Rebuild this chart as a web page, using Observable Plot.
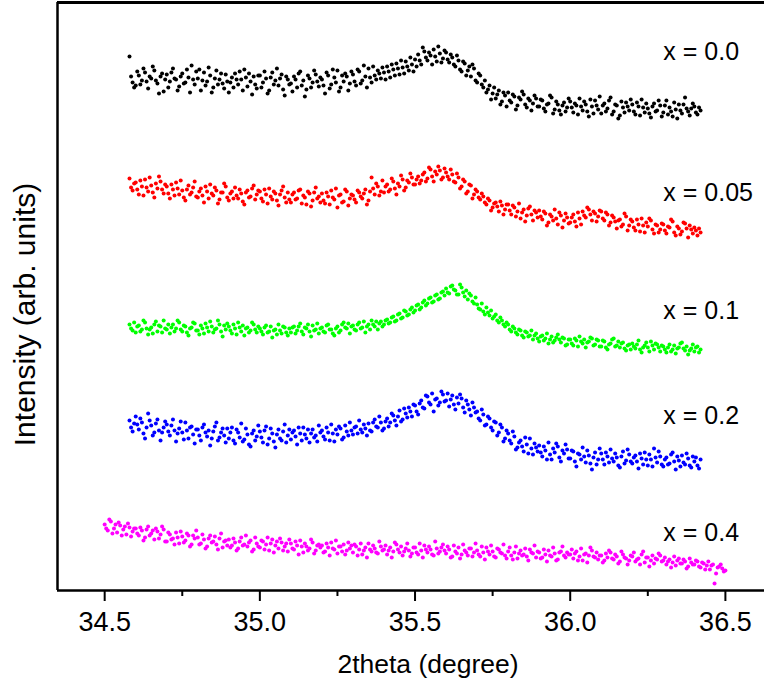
<!DOCTYPE html>
<html>
<head>
<meta charset="utf-8">
<script src="https://cdn.jsdelivr.net/npm/d3@7"></script>
<script src="https://cdn.jsdelivr.net/npm/@observablehq/plot@0.6"></script>
<style>
  html, body { margin: 0; padding: 0; background: #fff; }
  #chart svg { display: block; }
</style>
</head>
<body>
<div id="chart"></div>
<script>
// ---- data ----
const thetaStep = 0.005;
const thetaStartMain = 34.58;   // x = 0.0 … 0.2 scans
const thetaStartPink = 34.50;   // x = 0.4 scan

// Intensity (arb. units, vertically offset stacks)
const I_x00 = [
  534,514, 508,503,
  505,519, 515,506, 510,522, 518,509, 502,514, 512,524, 520,510, 507,497, 514,517, 499,511,
  516,503, 509,518, 522,512, 511,500, 504,514, 517,507, 508,521, 513,498, 525,511, 506,519,
  512,521, 500,510, 518,505, 509,523, 515,498, 503,512, 520,506, 511,517, 507,502, 516,509,
  498,508, 513,503, 517,511, 506,519, 511,500, 521,513, 504,517, 509,496, 514,506, 502,515,
  515,503, 508,519, 512,497, 500,513, 518,506, 510,522, 505,512, 516,501, 495,514, 511,506,
  507,499, 514,511, 503,517, 519,505, 510,494, 501,515, 512,503, 508,520, 516,509, 504,513,
  511,505, 497,518, 515,502, 506,521, 513,508, 520,499, 503,515, 509,517, 514,500, 507,519,
  516,509, 505,521, 519,507, 510,525, 514,503, 522,513, 508,524, 515,511, 520,517, 512,523,
  518,511, 524,519, 513,526, 521,515, 527,522, 516,530, 523,517, 529,524, 520,533, 526,519,
  531,524, 536,530, 526,543, 539,533, 530,538, 535,526, 541,534, 529,544, 537,528, 532,540,
  538,531, 528,536, 533,526, 524,535, 530,521, 519,529, 527,515, 520,524, 514,526, 522,510,
  508,517, 515,506, 503,510, 498,501, 505,491, 497,503, 492,496, 500,486, 489,498, 495,484,
  498,490, 488,496, 494,481, 485,493, 491,499, 496,486, 483,492, 490,480, 487,495, 492,484,
  484,491, 490,482, 479,486, 487,495, 493,477, 481,489, 486,480, 476,485, 488,479, 483,492,
  489,483, 478,487, 485,476, 492,484, 480,489, 486,479, 474,491, 484,477, 490,485, 481,494,
  477,485, 487,479, 482,490, 493,476, 479,486, 485,472, 475,489, 483,478, 488,484, 480,491,
  486,479, 476,488, 484,475, 491,483, 478,487, 482,477, 473,484, 487,479, 480,490, 485,474,
  478,485, 490,476, 483,479, 474,488, 481,472, 486,480, 477,486, 493,482, 479,475, 482,487,
  484,478, 476,483, 480
];
const I_x005 = [
  412,403, 400,407,
  408,401, 396,410, 404,395, 411,403, 399,413, 405,398, 393,407, 402,414, 409,401, 397,406,
  404,397, 392,406, 401,395, 408,402, 396,410, 400,393, 390,401, 405,396, 398,403, 409,394,
  393,399, 402,395, 388,404, 399,392, 406,397, 395,403, 400,387, 391,398, 398,407, 404,393,
  390,397, 399,392, 403,395, 392,401, 397,389, 386,398, 400,393, 394,402, 405,391, 396,400,
  399,392, 389,401, 396,387, 402,394, 391,399, 397,390, 385,396, 400,404, 393,388, 398,391,
  388,396, 398,391, 392,400, 401,387, 395,393, 386,399, 397,384, 390,398, 403,392, 394,388,
  397,390, 387,398, 394,386, 400,393, 391,402, 383,395, 396,388, 389,401, 399,385, 392,396,
  395,391, 388,400, 398,394, 392,397, 401,386, 390,399, 413,402, 396,407, 404,395, 399,410,
  398,404, 406,399, 401,412, 409,402, 396,407, 404,415, 411,400, 403,410, 408,417, 413,406,
  406,411, 414,407, 410,416, 418,409, 412,423, 421,414, 409,419, 416,424, 420,411, 413,422,
  418,414, 411,421, 416,409, 408,417, 413,402, 404,411, 409,397, 399,406, 405,392, 396,401,
  399,393, 391,397, 394,388, 386,392, 390,380, 383,387, 388,384, 379,389, 385,376, 381,386,
  386,380, 376,385, 383,374, 379,387, 372,378, 381,369, 375,382, 384,376, 370,380, 378,373,
  380,374, 371,379, 377,365, 368,376, 374,370, 381,372, 366,378, 375,363, 370,377, 373,367,
  368,373, 376,369, 364,378, 372,366, 379,375, 373,383, 381,376, 370,379, 377,369, 374,380,
  379,372, 370,378, 376,365, 368,375, 373,369, 362,370, 371,364, 366,377, 374,360, 365,371,
  369,363, 360,371, 366,359, 372,365, 358,368, 364,372, 370,361, 357,366, 365,358, 361,367,
  366,360, 357,364, 363,371, 369,358, 355,364, 362,356, 359,368, 367,362, 353,365, 361,357,
  363,360, 355,362, 358
];
const I_x01 = [
  266,262, 260,268,
  258,264, 265,259, 261,270, 268,262, 256,261, 263,257, 266,269, 259,265, 264,258, 270,262,
  261,266, 257,263, 266,259, 262,270, 268,261, 259,265, 264,258, 255,262, 263,268, 267,260,
  260,256, 265,262, 257,267, 263,259, 269,264, 258,261, 262,270, 266,259, 254,265, 261,267,
  264,260, 257,266, 262,256, 268,263, 259,265, 255,262, 263,258, 260,268, 266,261, 258,264,
  262,259, 256,263, 265,258, 259,264, 253,260, 261,256, 266,260, 257,264, 263,258, 255,262,
  258,263, 264,257, 260,264, 267,259, 256,263, 262,266, 259,254, 265,260, 261,267, 257,262,
  263,259, 258,265, 266,261, 261,257, 255,262, 264,258, 260,266, 268,263, 262,267, 257,264,
  265,261, 260,266, 268,262, 263,269, 258,264, 266,261, 270,266, 264,269, 261,267, 269,264,
  266,270, 271,267, 268,273, 274,269, 270,276, 277,272, 273,280, 279,275, 276,281, 283,278,
  280,285, 286,281, 283,288, 290,285, 287,292, 293,288, 289,295, 296,291, 292,298, 299,295,
  302,298, 297,304, 305,301, 300,296, 296,306, 303,298, 294,300, 291,297, 295,289, 287,293,
  286,282, 281,287, 279,276, 283,278, 275,280, 272,274, 276,270, 268,273, 270,266, 264,268,
  266,261, 259,264, 262,258, 256,261, 260,255, 253,259, 258,254, 255,260, 251,255, 257,252,
  249,254, 255,250, 252,257, 247,251, 254,248, 250,253, 256,251, 248,253, 252,245, 246,251,
  251,247, 245,252, 250,244, 254,249, 247,251, 243,248, 249,253, 252,245, 246,251, 250,244,
  244,250, 249,243, 241,246, 247,251, 252,244, 245,249, 243,247, 248,242, 240,245, 246,241,
  247,244, 242,246, 250,241, 238,243, 245,248, 243,239, 249,245, 241,247, 246,243, 239,245,
  244,241, 238,243, 246,239, 241,245, 237,242, 243,247, 248,242, 240,244, 236,240, 242,246,
  239,243, 244,238, 241
];
const I_x02 = [
  170,163, 159,167,
  174,166, 161,172, 168,157, 152,163, 177,170, 165,155, 158,167, 171,160, 150,158, 163,169,
  166,159, 155,165, 171,160, 149,157, 162,169, 158,151, 168,160, 152,163, 164,156, 147,161,
  161,155, 150,163, 166,158, 154,160, 145,152, 159,164, 168,150, 153,158, 162,155, 148,162,
  152,158, 163,150, 147,161, 158,153, 167,149, 151,162, 156,146, 144,157, 160,150, 154,165,
  159,153, 148,160, 164,146, 152,162, 157,149, 143,156, 161,152, 150,159, 166,148, 155,161,
  151,158, 160,154, 146,163, 157,150, 163,156, 152,161, 148,157, 161,153, 155,149, 165,158,
  160,154, 151,163, 158,150, 166,157, 149,161, 156,164, 162,151, 153,165, 159,155, 168,160,
  156,163, 164,157, 170,161, 158,166, 162,155, 167,160, 159,168, 171,164, 163,174, 168,160,
  162,169, 172,164, 168,177, 175,170, 165,174, 180,169, 171,182, 177,173, 183,179, 174,186,
  185,179, 176,187, 190,183, 182,195, 194,188, 186,197, 179,191, 192,185, 188,199, 196,189,
  190,197, 184,191, 195,186, 181,193, 187,196, 192,183, 178,190, 186,181, 175,188, 183,178,
  179,172, 170,181, 176,165, 166,174, 172,163, 160,169, 168,155, 158,166, 163,149, 152,160,
  157,150, 147,159, 154,141, 143,148, 150,144, 139,153, 146,137, 152,142, 136,147, 143,139,
  145,138, 134,144, 140,131, 148,136, 131,142, 138,147, 144,133, 129,140, 137,146, 141,132,
  132,140, 139,129, 124,137, 136,131, 143,134, 128,140, 135,127, 121,133, 138,126, 131,142,
  137,131, 126,138, 134,128, 141,132, 129,137, 133,125, 123,134, 139,127, 130,141, 136,129,
  127,133, 135,129, 122,137, 132,126, 138,131, 125,136, 131,124, 142,133, 128,139, 134,126,
  124,131, 133,126, 127,136, 138,129, 121,134, 130,124, 135,128, 126,137, 132,125, 123,134,
  129,133, 125,122, 131
];
const I_x04 = [
  66,62, 60,71, 69,57, 62,66, 58,68, 65,55, 61,64, 56,67, 63,54, 59,62,
  62,57, 55,63, 60,50, 53,61, 64,55, 57,60, 51,62, 59,52, 56,64, 61,49,
  49,58, 56,51, 52,46, 58,53, 47,59, 54,48, 50,57, 55,44, 46,55, 52,60,
  53,46, 47,56, 51,42, 44,52, 55,48, 49,54, 46,41, 52,57, 43,49, 50,45,
  51,43, 45,52, 48,40, 42,49, 53,45, 46,55, 44,48, 50,39, 41,53, 47,44,
  43,50, 49,41, 46,53, 40,47, 51,38, 45,49, 42,52, 48,40, 44,47, 39,51,
  47,42, 41,49, 45,36, 50,44, 38,47, 44,40, 42,51, 48,37, 40,45, 46,43,
  45,38, 39,47, 43,35, 48,42, 41,50, 37,44, 44,39, 46,36, 40,48, 42,45,
  38,46, 44,35, 41,47, 36,40, 43,33, 47,41, 39,45, 42,38, 37,49, 44,40,
  41,45, 36,40, 43,33, 39,48, 46,41, 38,44, 35,39, 42,47, 40,34, 37,43,
  43,38, 36,47, 40,33, 45,41, 38,44, 41,36, 35,49, 42,37, 39,43, 46,40,
  37,44, 41,33, 34,45, 39,37, 43,32, 36,46, 40,38, 35,42, 42,34, 38,47,
  40,36, 34,44, 38,31, 43,39, 36,45, 39,34, 33,42, 41,38, 37,46, 35,32,
  39,43, 35,31, 38,44, 32,37, 40,35, 36,42, 34,30, 41,38, 37,45, 33,39,
  38,32, 33,41, 36,29, 40,35, 34,43, 37,30, 31,38, 39,44, 35,33, 38,36,
  36,41, 32,37, 39,30, 34,42, 30,36, 37,28, 35,43, 40,34, 33,38, 31,35,
  35,28, 30,37, 33,40, 38,32, 31,36, 34,27, 29,39, 36,33, 32,26, 30,35,
  34,38, 29,31, 32,26, 36,39, 28,33, 33,24, 30,35, 27,32, 31,37, 35,29,
  30,33, 26,29, 31,23, 28,34, 25,30, 32,27, 27,31, 29,22, 24,32, 28,26,
  26,30, 29,24, 23,28, 27,21, 25,29, 21,25, 26,7, 17,23, 24,26, 22,19,
  20
];

const seriesNames  = ["x = 0.0", "x = 0.05", "x = 0.1", "x = 0.2", "x = 0.4"];
const seriesColors = ["#000000", "#ff0000", "#00ff00", "#0000ff", "#ff00ff"];
const seriesStarts = [thetaStartMain, thetaStartMain, thetaStartMain, thetaStartMain, thetaStartPink];
const seriesValues = [I_x00, I_x005, I_x01, I_x02, I_x04];
const labelTheta = 36.30;
const labelIntensity = [539, 398, 280, 175, 58];

const majorTicks = [34.5, 35.0, 35.5, 36.0, 36.5];
const minorTicks = [34.75, 35.25, 35.75, 36.25];
const xDomain = [34.348, 36.626];
const yDomain = [0, 588];

// ---- build table ----
const points = [];
seriesValues.forEach((vals, s) => {
  vals.forEach((v, i) => {
    points.push({
      series: seriesNames[s],
      theta: +(seriesStarts[s] + i * thetaStep).toFixed(3),
      intensity: v
    });
  });
});
const labels = seriesNames.map((name, s) => ({name, theta: labelTheta, intensity: labelIntensity[s]}));

const chart = Plot.plot({
  width: 764,
  height: 692,
  marginLeft: 57,
  marginRight: 0,
  marginTop: 2,
  marginBottom: 102,
  style: {fontFamily: "'Liberation Sans', Arial, Helvetica, sans-serif", background: "#fff", color: "#000"},
  x: {domain: xDomain},
  y: {domain: yDomain, axis: null},
  color: {domain: seriesNames, range: seriesColors},
  marks: [
    Plot.dot(points, {x: "theta", y: "intensity", fill: "series", r: 2, stroke: null}),
    Plot.text(labels, {x: "theta", y: "intensity", text: "name", textAnchor: "start", fontSize: 25, fill: "#000"}),
    Plot.ruleX([xDomain[0]], {stroke: "#000", strokeWidth: 2.5}),
    Plot.ruleY([yDomain[0]], {stroke: "#000", strokeWidth: 2.5}),
    Plot.ruleY([yDomain[1]], {stroke: "#000", strokeWidth: 3}),
    Plot.axisX({ticks: majorTicks, tickFormat: d3.format(".1f"), tickSize: 11, tickPadding: 10, fontSize: 27, strokeWidth: 2, label: null}),
    Plot.axisX({ticks: minorTicks, tickFormat: () => "", tickSize: 6, strokeWidth: 2, label: null}),
    Plot.text(["2theta (degree)"], {frameAnchor: "bottom", textAnchor: "middle", dx: 17, dy: 82, fontSize: 26.5, fill: "#000"}),
    Plot.text(["Intensity (arb. units)"], {frameAnchor: "left", textAnchor: "middle", rotate: -90, dx: -32, dy: 18, fontSize: 30, fill: "#000"})
  ]
});
document.getElementById("chart").appendChild(chart);
</script>
</body>
</html>
